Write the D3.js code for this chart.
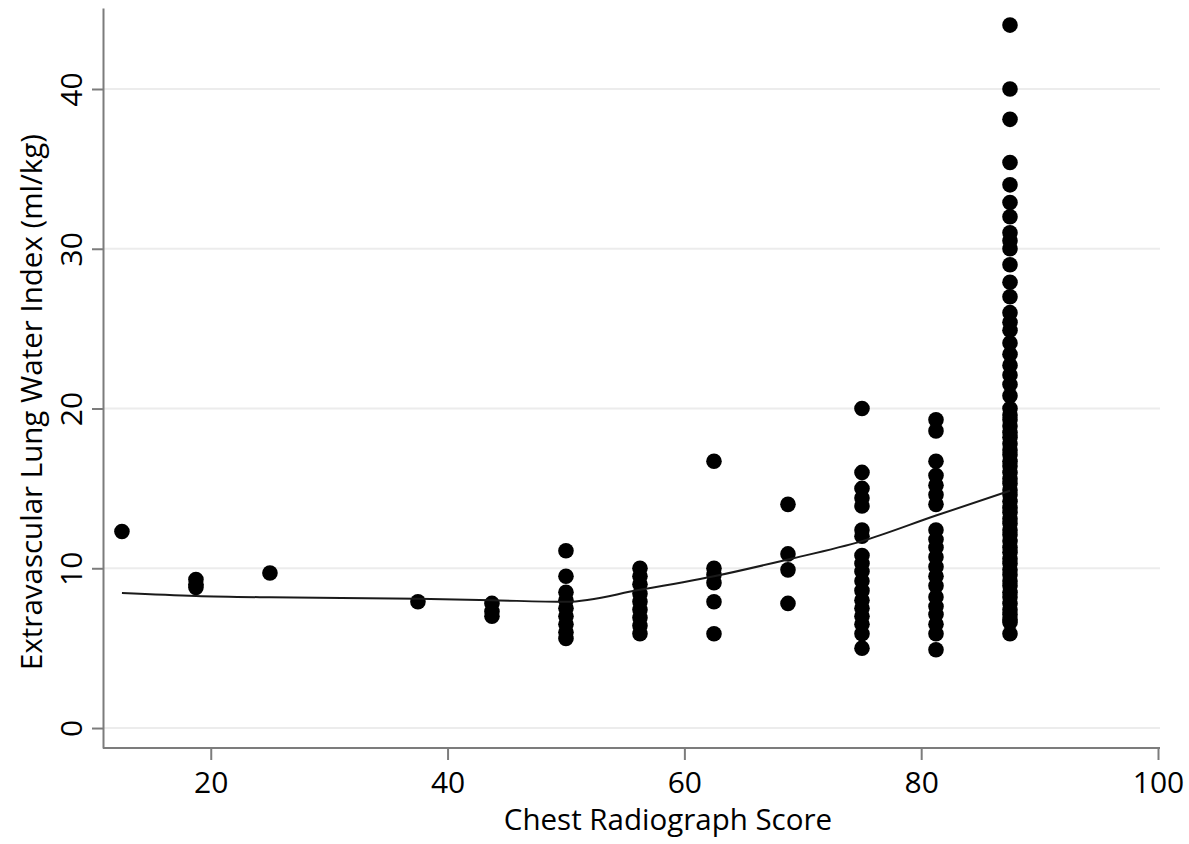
<!DOCTYPE html>
<html>
<head>
<meta charset="utf-8">
<script src="https://cdn.jsdelivr.net/npm/d3@7/dist/d3.min.js"></script>
<style>
  html, body { margin: 0; padding: 0; background: #fff; }
  svg { display: block; }
  .axis text { font-family: "Open Sans", sans-serif; font-size: 30px; fill: #000; }
  .axis path, .axis line { stroke: #7c7c7c; stroke-width: 2px; }
  .grid line { stroke: #ececec; stroke-width: 2px; }
  .title { font-family: "Open Sans", sans-serif; font-size: 29.5px; fill: #000; }
  .dot { fill: #000; }
  .fit { fill: none; stroke: #1a1a1a; stroke-width: 2px; }
</style>
</head>
<body>
<svg id="chart" width="1189" height="844"></svg>
<script>
// chest radiograph score columns and the EVLWI readings at each
const scores = [12.5, 18.75, 25, 37.5, 43.75, 50, 56.25, 62.5, 68.75, 75, 81.25, 87.5];

const evlwi = [
  [12.3],
  [9.3, 9.0, 8.8],
  [9.7],
  [7.9],
  [7.8, 7.3, 7.0],
  [11.1, 9.5, 8.5, 8.0, 7.5, 7.0, 6.5, 6.0, 5.6],
  [10.0, 9.5, 9.0, 8.4, 7.9, 7.4, 6.9, 6.4, 5.9],
  [16.7, 10.0, 9.6, 9.1, 7.9, 5.9],
  [14.0, 10.9, 9.9, 7.8],
  [20.0, 16.0, 15.0, 14.4, 13.9, 12.4, 12.0, 10.8, 10.3, 9.8, 9.2, 8.6, 8.0, 7.5, 7.0, 6.5, 5.9, 5.0],
  [19.3, 18.6, 16.7, 15.8, 15.2, 14.6, 14.0, 12.4, 11.8, 11.3, 10.7, 10.1, 9.5, 8.9, 8.2, 7.6, 7.1, 6.5, 5.9, 4.9],
  [44.0, 40.0, 38.1, 35.4, 34.0, 32.9, 32.0, 31.0, 30.5, 30.0, 29.0, 27.9, 27.0, 26.0, 25.4, 24.9,
   24.1, 23.4, 22.7, 22.1, 21.5, 20.8,
   20.0, 19.6, 19.3, 18.9, 18.5, 18.2, 17.8, 17.4, 17.1, 16.7, 16.4, 16.0, 15.6, 15.3, 14.9, 14.6,
   14.2, 13.8, 13.5, 13.1, 12.8, 12.4, 12.1, 11.7, 11.3, 11.0, 10.6, 10.3, 9.9, 9.6, 9.2, 8.9,
   8.5, 8.2, 7.8, 7.4, 7.1, 6.8, 6.6, 5.9]
];

// smoothed fit evaluated at each score
const fitValues = [8.45, 8.27, 8.18, 8.1, 8.0, 7.9, 8.65, 9.5, 10.55, 11.7, 13.3, 14.85];

const xTicks = [20, 40, 60, 80, 100];
const yTicks = [0, 10, 20, 30, 40];

const xLabel = "Chest Radiograph Score";
const yLabel = "Extravascular Lung Water Index (ml/kg)";

const svg = d3.select("#chart");

const x = d3.scaleLinear().domain([10.9, 100]).range([103, 1158]);
const y = d3.scaleLinear().domain([-1.25, 45.07]).range([748, 8]);

// light horizontal grid
svg.append("g").attr("class", "grid")
  .selectAll("line")
  .data(yTicks)
  .enter().append("line")
  .attr("x1", x(10.9)).attr("x2", 1160)
  .attr("y1", d => y(d)).attr("y2", d => y(d));

// x axis
const gx = svg.append("g")
  .attr("class", "axis")
  .attr("transform", `translate(0,${y(-1.25)})`)
  .call(d3.axisBottom(x).tickValues(xTicks).tickSize(12).tickSizeOuter(0));
gx.select(".domain").attr("d", `M${x(10.9)},0H1160`);
gx.selectAll("text").attr("y", 45).attr("dy", 0);

// y axis
const gy = svg.append("g")
  .attr("class", "axis")
  .attr("transform", `translate(${x(10.9)},0)`)
  .call(d3.axisLeft(y).tickValues(yTicks).tickSize(11).tickSizeOuter(0));
gy.selectAll("text")
  .attr("transform", "rotate(-90)")
  .attr("x", 0).attr("y", -21).attr("dy", 0)
  .attr("text-anchor", "middle");

// axis titles
svg.append("text").attr("class", "title")
  .attr("x", 668).attr("y", 830)
  .attr("text-anchor", "middle")
  .text(xLabel);

svg.append("text").attr("class", "title")
  .attr("transform", "translate(42,402) rotate(-90)")
  .attr("text-anchor", "middle")
  .text(yLabel);

// points
const points = [];
scores.forEach((s, i) => evlwi[i].forEach(v => points.push({ s: s, v: v })));

svg.append("g")
  .selectAll("circle")
  .data(points)
  .enter().append("circle")
  .attr("class", "dot")
  .attr("cx", d => x(d.s))
  .attr("cy", d => y(d.v))
  .attr("r", 7.8);

// fitted line
const line = d3.line()
  .x((d, i) => x(scores[i]))
  .y(d => y(d))
  .curve(d3.curveMonotoneX);

svg.append("path")
  .datum(fitValues)
  .attr("class", "fit")
  .attr("d", line);
</script>
</body>
</html>
